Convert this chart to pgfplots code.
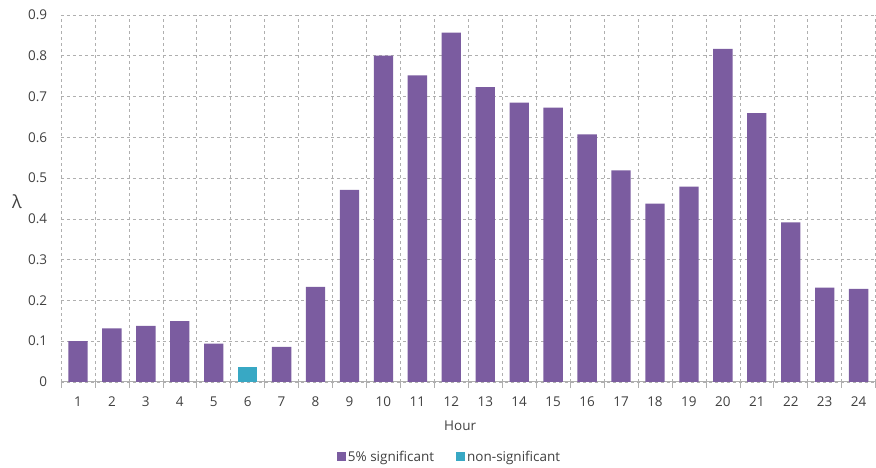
\documentclass[border=0pt]{standalone}
\usepackage{pgfplots}
\pgfplotsset{compat=1.18}
\usepackage{fontspec}
\setmainfont{Open Sans}

\definecolor{sigpurple}{RGB}{123,92,160}
\definecolor{nsteal}{RGB}{56,168,196}
\definecolor{gridgray}{RGB}{175,175,175}
\definecolor{textgray}{RGB}{64,64,64}

% hourly lambda, significant at the 5% level
\pgfplotstableread{
hour lambda
1  0.100
2  0.131
3  0.137
4  0.149
5  0.094
7  0.086
8  0.233
9  0.471
10 0.800
11 0.752
12 0.857
13 0.723
14 0.685
15 0.673
16 0.607
17 0.519
18 0.437
19 0.479
20 0.817
21 0.659
22 0.391
23 0.231
24 0.228
}\sigdata

% hours whose lambda is not significant
\pgfplotstableread{
hour lambda
6  0.037
}\nsdata

\begin{document}
\begin{tikzpicture}
\begin{axis}[
  scale only axis,
  width=815pt, height=367pt,
  xmin=0.5, xmax=24.5, ymin=0, ymax=0.9,
  ybar, bar width=0.57, bar shift=0pt,
  axis x line*=bottom, axis y line*=left,
  x axis line style={draw=gridgray, line width=0.8pt, -},
  y axis line style={draw=none},
  xtick={1,...,24},
  minor xtick={0.5,1.5,...,24.5},
  major x tick style={draw=none},
  minor x tick style={draw=gridgray, line width=0.6pt},
  minor tick length=6pt,
  tick align=outside,
  minor x grid style={gridgray, dashed, line width=0.5pt},
  xminorgrids,
  ytick={0,0.1,...,0.9},
  major y tick style={draw=none},
  ymajorgrids,
  major y grid style={gridgray, dashed, line width=0.5pt},
  /pgf/number format/assume math mode=true,
  yticklabel style={/pgf/number format/fixed, /pgf/number format/precision=1},
  ticklabel style={font=\fontsize{13.5}{15}\selectfont, text=textgray},
  xticklabel style={yshift=-7pt},
  yticklabel style={xshift=-6pt},
  xlabel={Hour},
  xlabel style={font=\fontsize{13.5}{15}\selectfont, text=textgray, at={(axis description cs:0.49,-0.121)}, anchor=center},
  ylabel={λ},
  ylabel style={font=\fontsize{18}{20}\selectfont, text=textgray, rotate=-90, at={(axis description cs:-0.054,0.49)}, anchor=center},
  legend columns=2,
  legend style={draw=none, at={(axis description cs:0.477,-0.204)}, anchor=center,
    font=\fontsize{13.5}{15}\selectfont, text=textgray,
    /tikz/every even column/.append style={column sep=20pt}},
  legend image code/.code={\fill[#1] (0pt,-4.5pt) rectangle (9pt,4.5pt);},
  clip=false,
]
\addplot[fill=sigpurple, draw=none] table[x=hour, y=lambda] {\sigdata};
\addlegendentry{5\% significant}
\addplot[fill=nsteal, draw=none] table[x=hour, y=lambda] {\nsdata};
\addlegendentry{non-significant}
\end{axis}
\path (-61pt,-86pt) rectangle (815pt,382pt);
\end{tikzpicture}
\end{document}
